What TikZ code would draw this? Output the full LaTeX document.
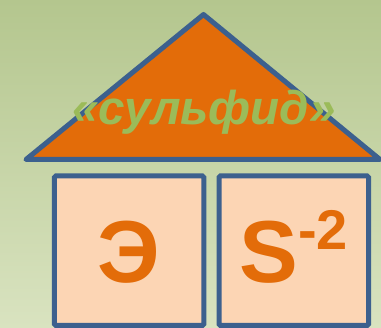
\documentclass[tikz,border=0pt]{standalone}
\usepackage{fontspec}
\setmainfont{Liberation Sans}
\definecolor{bgtop}{RGB}{180,198,142}
\definecolor{bgbot}{RGB}{217,227,192}
\definecolor{roof}{RGB}{227,108,9}
\definecolor{edge}{RGB}{60,96,142}
\definecolor{wall}{RGB}{252,213,180}
\definecolor{title}{RGB}{155,187,89}
\tikzset{
  wallbox/.style={draw=edge, line width=5pt, fill=wall, rounded corners=1.5pt},
  bigsym/.style={text=roof, font=\bfseries\fontsize{88}{88}\selectfont, inner sep=0pt, anchor=base},
}
\begin{document}
\begin{tikzpicture}[x=1pt,y=-1pt]
  % background
  \shade[top color=bgtop, bottom color=bgbot] (0,0) rectangle (381,328);
  \useasboundingbox (0,0) rectangle (381,328);
  % roof
  \coordinate (apex) at (203.5,14.5);
  \coordinate (eaveL) at (26,159.5);
  \coordinate (eaveR) at (380,159.5);
  \draw[draw=edge, line width=5pt, fill=roof, line join=round] (eaveL) -- (apex) -- (eaveR) -- cycle;
  \node[text=title, font=\bfseries\itshape\fontsize{47.5}{47.5}\selectfont, inner sep=0pt, anchor=base] (name) at (204,125) {«сульфид»};
  % walls
  \draw[wallbox] (54.3,176) rectangle (203.8,325.5);
  \draw[wallbox] (219,176) rectangle (368.7,325.5);
  \node[bigsym] (elem) at (129,283) {Э};
  \node[bigsym, anchor=base west] (sulf) at (239,283) {S};
  \node[text=roof, font=\bfseries\fontsize{56}{56}\selectfont, inner sep=0pt, anchor=base west] (chg) at (sulf.base east) [yshift=33pt] {-2};
\end{tikzpicture}
\end{document}
